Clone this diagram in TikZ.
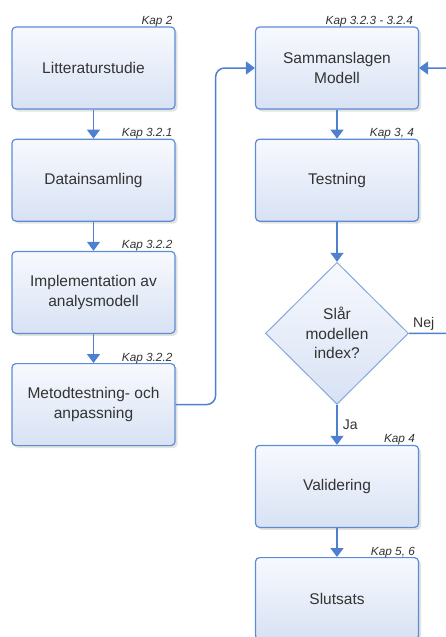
\documentclass[tikz,border=0pt]{standalone}
\usepackage{fontspec}
\setmainfont{Liberation Sans}
\usetikzlibrary{arrows.meta, positioning, shapes.geometric, shadows}
\definecolor{flowline}{HTML}{4F80CF}
\definecolor{boxedge}{HTML}{5C8CD3}
\definecolor{diaedge}{HTML}{86A8DA}
\definecolor{boxtop}{HTML}{F7F9FE}
\definecolor{boxbottom}{HTML}{D8E2F4}
\definecolor{boxtext}{HTML}{333333}

\begin{document}
\begin{tikzpicture}[
  x=1pt,
  y=-1pt,
  every node/.style={font=\fontsize{15.5}{19.5}\selectfont, text=boxtext},
  stepbox/.style={draw=boxedge, line width=1.2pt, rounded corners=4pt,
                  top color=boxtop, bottom color=boxbottom,
                  minimum width=163pt, minimum height=82pt, align=center,
                  drop shadow={shadow xshift=2.5pt, shadow yshift=-2.5pt, opacity=0.22}},
  choice/.style={diamond, draw=diaedge, line width=1pt, aspect=1, inner sep=0pt,
                 top color=boxtop, bottom color=boxbottom,
                 minimum width=143pt, minimum height=142pt, align=center},
  flow/.style={flowline, line width=1.5pt, -{Triangle[width=13pt, length=9pt]}},
  kap/.style={font=\fontsize{11.8}{13}\selectfont\itshape, inner sep=0pt, anchor=base east},
  answer/.style={font=\fontsize{14}{16}\selectfont, inner sep=0pt}
]
  % ---- page frame of the reference ----
  \useasboundingbox (0,0) rectangle (445,637);

  % ---- left column ----
  \node[stepbox] (lit) at (93.5,68) {Litteraturstudie};
  \node[stepbox, below=29pt of lit] (data) {Datainsamling};
  \node[stepbox, below=29pt of data] (impl) {Implementation av\\analysmodell};
  \node[stepbox, below=29pt of impl] (metod) {Metodtestning- och\\anpassning};

  % ---- right column ----
  \node[stepbox] (samman) at (337,68) {Sammanslagen\\Modell};
  \node[stepbox, below=29pt of samman] (test) {Testning};
  \node[choice, below=40pt of test] (slar) {Slår\\modellen\\index?};
  \node[stepbox, below=40pt of slar] (valid) {Validering};
  \node[stepbox, below=29pt of valid] (slut) {Slutsats};

  % ---- chapter references ----
  \node[kap] (kaplit) at ([xshift=-3pt, yshift=2pt]lit.north east) {Kap 2};
  \node[kap] (kapdata) at ([xshift=-3pt, yshift=2pt]data.north east) {Kap 3.2.1};
  \node[kap] (kapimpl) at ([xshift=-3pt, yshift=2pt]impl.north east) {Kap 3.2.2};
  \node[kap] (kapmetod) at ([xshift=-3pt, yshift=2pt]metod.north east) {Kap 3.2.2};
  \node[kap] (kapsamman) at ([xshift=-6pt, yshift=2pt]samman.north east) {Kap 3.2.3 - 3.2.4};
  \node[kap] (kaptest) at ([xshift=-5pt, yshift=2pt]test.north east) {Kap 3, 4};
  \node[kap] (kapvalid) at ([xshift=-4pt, yshift=2pt]valid.north east) {Kap 4};
  \node[kap] (kapslut) at ([xshift=-4pt, yshift=2pt]slut.north east) {Kap 5, 6};

  % ---- connectors ----
  \draw[flow] (lit) -- (data);
  \draw[flow] (data) -- (impl);
  \draw[flow] (impl) -- (metod);
  \draw[flow, rounded corners=9pt] (metod.east) -- ++(40,0) |- (samman.west);
  \draw[flow] (samman) -- (test);
  \draw[flow] (test) -- (slar);
  \draw[flow] (slar) -- (valid)
    node[answer, pos=0.5, anchor=west, xshift=5pt] (ja) {Ja};
  \draw[flow] (valid) -- (slut);
  \draw[flow, rounded corners=9pt] (slar.east) -- ++(60,0) |- (samman.east);
  \node[answer, anchor=south west] (nej) at ([xshift=4pt, yshift=3pt]slar.east) {Nej};
\end{tikzpicture}
\end{document}
